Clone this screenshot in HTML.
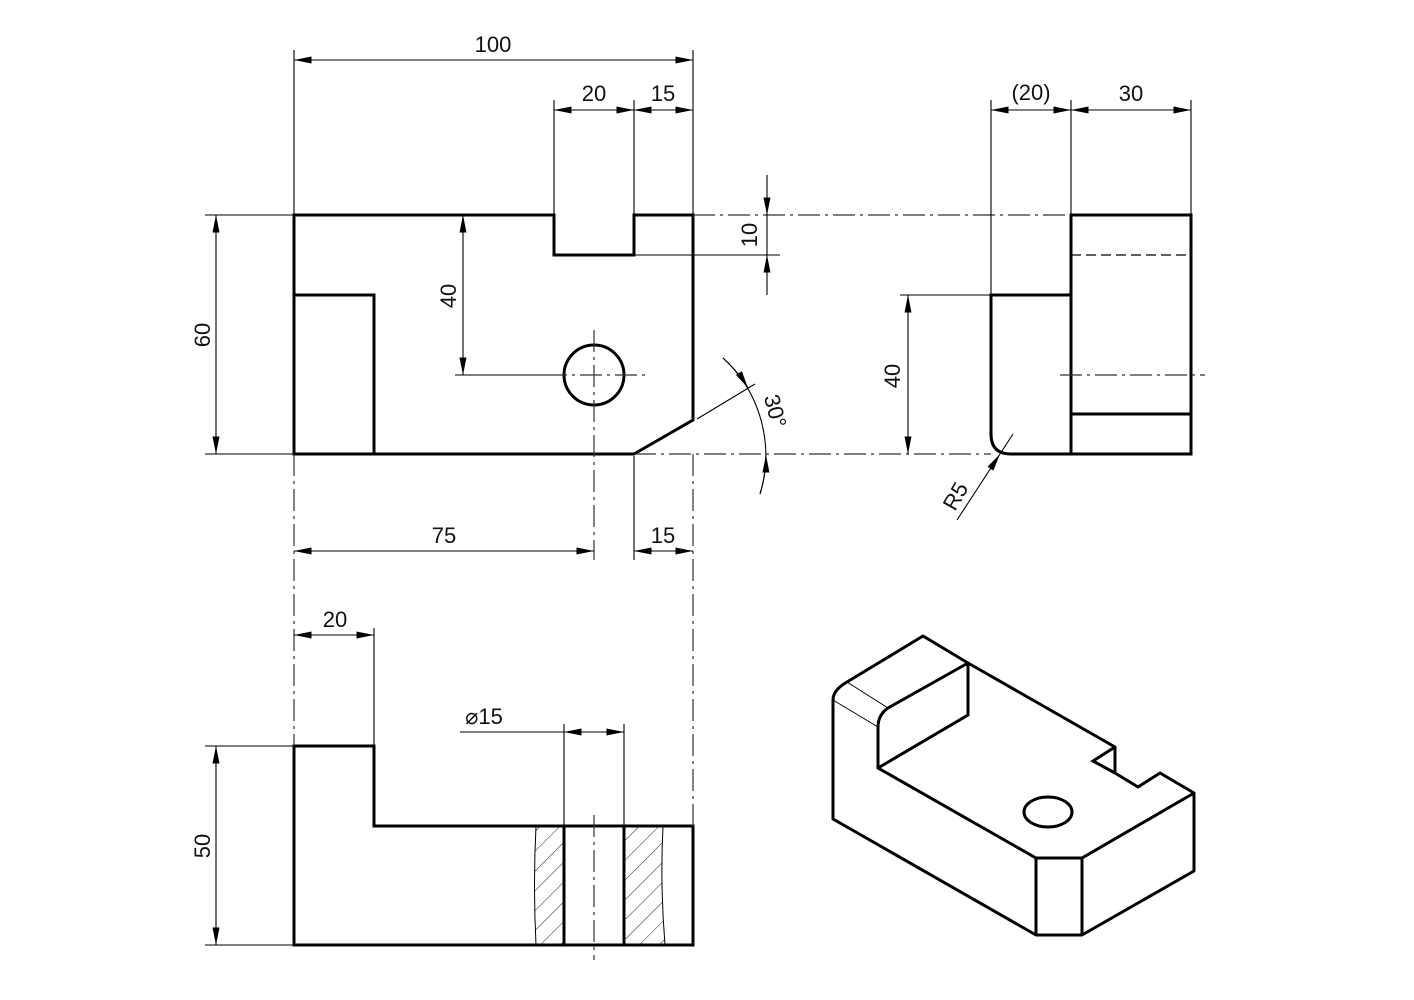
<!DOCTYPE html>
<html><head><meta charset="utf-8"><style>
html,body{margin:0;padding:0;background:#fff}
svg{display:block}
text{font-family:"Liberation Sans",sans-serif;font-size:22px;fill:#111;font-weight:normal}
</style></head><body>
<svg width="1414" height="1000" viewBox="0 0 1414 1000" xmlns="http://www.w3.org/2000/svg">
<defs>
<marker id="a" viewBox="0 0 20 8" refX="20" refY="4" markerWidth="20" markerHeight="7" markerUnits="userSpaceOnUse" orient="auto-start-reverse">
<path d="M0,0 L20,4 L0,8 z" fill="#000"/></marker>
<pattern id="h" patternUnits="userSpaceOnUse" width="14" height="14" patternTransform="rotate(45)">
<line x1="0" y1="0" x2="0" y2="14" stroke="#222" stroke-width="1"/></pattern>
</defs>
<g fill="none" stroke="#000">
<g stroke-width="3" stroke-linejoin="miter">
<path d="M294,215 H554 V255 H634 V215 H693 V420 L634,454 H294 Z"/>
<path d="M294,295 H374 V454"/>
<circle cx="594" cy="375" r="30"/>
<path d="M1071,215 H1191 V454 H1071 Z"/>
<path d="M1071,295 H991 V434 Q991,454 1011,454 H1071"/>
<path d="M1071,414 H1191"/>
<path d="M294,746 H374 V826 H693 V945 H294 Z"/>
<path d="M564,826 V945 M624,826 V945"/>
<path d="M923,636 L847,682 Q833,690 833,700 V819 L1036,935 H1082 L1194,871 V793 L1160,773 L1138,787 L1115,773 L1115,747 L968,663 Z" stroke-linejoin="round"/>
<path d="M1115,747 L1093,761 L1115,773"/>
<path d="M968,663 V715 L878,768 M968,663 L888,708 Q878,715 878,727 V768 L1036,858 H1082 L1194,793 M1036,858 V935 M1082,858 V935"/>
<ellipse cx="1048" cy="812" rx="24" ry="15"/>
</g>
<path d="M847,682 L888,708 M833,700 L878,727" stroke-width="1"/>
<path d="M536,826 Q533,885 536,945 H564 V826 Z" fill="url(#h)" stroke="none"/>
<path d="M624,826 H663 Q660,885 665,945 H624 Z" fill="url(#h)" stroke="none"/>
<path d="M536,826 Q533,885 536,945 M663,826 Q660,885 665,945" stroke-width="1"/>
<path d="M1071,255 H1191" stroke-width="1.2" stroke-dasharray="10,5"/>
<g stroke-width="1.2" stroke-dasharray="22,5,3,5" stroke="#333">
<path d="M693,215 H1071"/>
<path d="M634,454 H991"/>
<path d="M294,454 V746"/>
<path d="M693,454 V826"/>
<path d="M545,375 H645 M594,330 V560"/>
<path d="M1060,375 H1205"/>
<path d="M594,815 V960"/>
</g>
<g stroke-width="1.1">
<path d="M294,50 V215 M693,50 V215 M554,100 V215 M634,100 V215"/>
<path d="M294,60 H693" marker-start="url(#a)" marker-end="url(#a)"/>
<path d="M554,110 H634" marker-start="url(#a)" marker-end="url(#a)"/>
<path d="M634,110 H693" marker-start="url(#a)" marker-end="url(#a)"/>
<path d="M634,255 H780"/>
<path d="M767,175 V215" marker-end="url(#a)"/>
<path d="M767,295 V255" marker-end="url(#a)"/>
<path d="M767,215 V255"/>
<path d="M205,215 H294 M205,454 H294"/>
<path d="M216,215 V454" marker-start="url(#a)" marker-end="url(#a)"/>
<path d="M463,215 V375" marker-start="url(#a)" marker-end="url(#a)"/>
<path d="M455,375 H545"/>
<path d="M697,419 L755,384"/>
<path d="M723,358 A132,132 0 0 1 760,494"/>
<path d="M723,358 A132,132 0 0 1 748,388" marker-end="url(#a)"/>
<path d="M760,494 A132,132 0 0 0 766,455" marker-end="url(#a)"/>
<path d="M634,456 V560"/>
<path d="M294,551 H594" marker-start="url(#a)" marker-end="url(#a)"/>
<path d="M634,551 H693" marker-start="url(#a)" marker-end="url(#a)"/>
<path d="M374,628 V746"/>
<path d="M294,635 H374" marker-start="url(#a)" marker-end="url(#a)"/>
<path d="M564,724 V826 M624,724 V826"/>
<path d="M460,732 H564"/>
<path d="M564,732 H624" marker-start="url(#a)" marker-end="url(#a)"/>
<path d="M205,746 H294 M205,945 H294"/>
<path d="M216,746 V945" marker-start="url(#a)" marker-end="url(#a)"/>
<path d="M991,100 V295 M1071,100 V215 M1191,100 V215"/>
<path d="M991,110 H1071" marker-start="url(#a)" marker-end="url(#a)"/>
<path d="M1071,110 H1191" marker-start="url(#a)" marker-end="url(#a)"/>
<path d="M900,295 H991"/>
<path d="M908,295 V454" marker-start="url(#a)" marker-end="url(#a)"/>
<path d="M1013,434 L1000,454"/>
<path d="M957,520 L1000,454" marker-end="url(#a)"/>
</g>
</g>
<text x="493" y="52" text-anchor="middle">100</text>
<text x="594" y="101" text-anchor="middle">20</text>
<text x="663" y="101" text-anchor="middle">15</text>
<text x="1031" y="100" text-anchor="middle">(20)</text>
<text x="1131" y="101" text-anchor="middle">30</text>
<text transform="translate(757,235) rotate(-90)" text-anchor="middle">10</text>
<text transform="translate(210,335) rotate(-90)" text-anchor="middle">60</text>
<text transform="translate(456,296) rotate(-90)" text-anchor="middle">40</text>
<text transform="translate(900,376) rotate(-90)" text-anchor="middle">40</text>
<text transform="translate(768,413) rotate(75)" text-anchor="middle">30°</text>
<text x="444" y="543" text-anchor="middle">75</text>
<text x="663" y="543" text-anchor="middle">15</text>
<text x="335" y="627" text-anchor="middle">20</text>
<text x="484" y="724" text-anchor="middle">⌀15</text>
<text transform="translate(210,846) rotate(-90)" text-anchor="middle">50</text>
<text transform="translate(962,500) rotate(-60)" text-anchor="middle">R5</text>
</svg>
</body></html>
